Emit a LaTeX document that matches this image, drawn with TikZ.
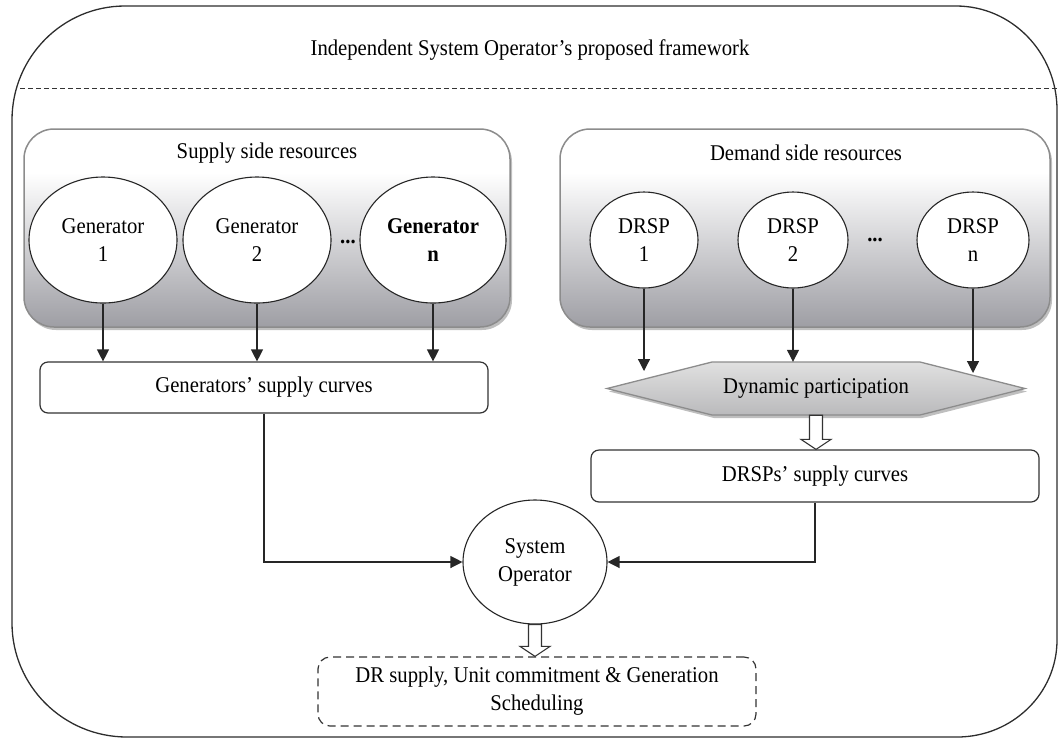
\documentclass[tikz,border=0pt]{standalone}
\usepackage{fontspec}
\setmainfont{Liberation Serif}[FakeStretch=0.92]
\usetikzlibrary{arrows.meta,shadows,calc,shapes.geometric}
\definecolor{boxgray}{RGB}{158,158,164}
\definecolor{framecol}{RGB}{45,45,45}
\definecolor{hextop}{RGB}{224,224,224}
\definecolor{hexbot}{RGB}{186,186,188}
\pgfdeclareverticalshading{resshade}{100bp}{color(0bp)=(boxgray); color(25bp)=(boxgray); color(64bp)=(white); color(100bp)=(white)}
\pgfdeclareverticalshading{hexshade}{100bp}{color(0bp)=(hexbot); color(25bp)=(hexbot); color(75bp)=(hextop); color(100bp)=(hextop)}
\newcommand\myfs{\fontsize{22.5pt}{28pt}\selectfont}
\newcommand\hollowarr[2]{%
  \draw[hollowstyle] let \p1=(#1), \p2=(#2) in
    (\x1-6.5pt,\y1) -- (\x1-6.5pt,\y2+10pt) -- (\x1-15pt,\y2+10pt) -- (\x1,\y2)
    -- (\x1+15pt,\y2+10pt) -- (\x1+6.5pt,\y2+10pt) -- (\x1+6.5pt,\y1) -- cycle;}
\begin{document}
\begin{tikzpicture}[x=1pt,y=-1pt,
  every node/.style={font=\myfs},
  resbox/.style={draw=black!45, line width=1.5pt, rounded corners=30pt, shading=resshade,
    drop shadow={shadow xshift=2pt, shadow yshift=-3pt, opacity=0.25, fill=black},
    inner sep=0pt},
  ell/.style={ellipse, draw=black!85, line width=1.1pt, fill=white, inner sep=0pt, align=center},
  curvebox/.style={draw=black!80, line width=1.2pt, rounded corners=8pt, fill=white, inner sep=0pt},
  arr/.style={line width=1.2pt, draw=black!85, -{Triangle[width=12pt,length=12pt]}},
  hollowstyle/.style={draw=black!80, line width=1.1pt, fill=white},
  hexstyle/.style={draw=black!45, line width=1.3pt, shading=hexshade,
    drop shadow={shadow xshift=2pt, shadow yshift=-3pt, opacity=0.25, fill=black}},
  dashbox/.style={draw=black!80, line width=1.2pt, dash pattern=on 8pt off 5pt, rounded corners=12pt, inner sep=0pt, align=center}
]
\useasboundingbox (0,0) rectangle (1059,740);

% outer frame
\draw[framecol, line width=1.3pt]
  (125,6) -- (956,6) .. controls (1011.8,6) and (1057,52.6) .. (1057,110)
  -- (1057,640) .. controls (1057,693.5) and (1012.2,737) .. (957,737)
  -- (127,737) .. controls (63.5,737) and (12,685.9) .. (12,623)
  -- (12,120) .. controls (12,57.1) and (62.6,6) .. (125,6) -- cycle;
\node (title) at (530,50) {Independent System Operator’s proposed framework};
\coordinate (dl) at (20,88);
\coordinate (dr) at (1057,88);
\draw[black!80, line width=1pt, dash pattern=on 5pt off 3pt] (dl) -- (dr);

% resource boxes
\node[resbox, minimum width=486pt, minimum height=198pt] (sup) at (267,228) {};
\node (suptitle) at (267,153) {Supply side resources};
\node[resbox, minimum width=490pt, minimum height=198pt] (dem) at (805,228) {};
\node (demtitle) at (806,153) {Demand side resources};

% generators
\node[ell, minimum width=148pt, minimum height=126pt] (g1) at (103,240) {Generator\\1};
\node[ell, minimum width=148pt, minimum height=126pt] (g2) at (257,240) {Generator\\2};
\node[ell, minimum width=146pt, minimum height=126pt, font=\myfs\bfseries] (gn) at (433,240) {Generator\\n};
\node (gdots) at (348,242) {\textbf{...}};

% DRSPs
\node[ell, minimum width=108pt, minimum height=96pt] (d1) at (644,240) {DRSP\\1};
\node[ell, minimum width=110pt, minimum height=96pt] (d2) at (793,240) {DRSP\\2};
\node[ell, minimum width=112pt, minimum height=96pt] (dn) at (973,240) {DRSP\\n};
\node (ddots) at (875,240) {\textbf{...}};

% generators' supply curves
\node[curvebox, minimum width=448pt, minimum height=51pt] (gsc) at (264,387.5) {Generators’ supply curves};
\draw[arr] (g1.south) -- (g1.south |- gsc.north);
\draw[arr] (g2.south) -- (g2.south |- gsc.north);
\draw[arr] (gn.south) -- (gn.south |- gsc.north);

% dynamic participation hexagon
\path[hexstyle] (607,388.5) -- (712,362) -- (920,362) -- (1025,388.5) -- (920,415) -- (712,415) -- cycle;
\node[minimum width=418pt, minimum height=53pt, inner sep=0pt] (hex) at (816,388.5) {Dynamic participation};
\coordinate (h1) at (644,371);
\coordinate (h3) at (973,373);
\draw[arr] (d1.south) -- (h1);
\draw[arr] (d2.south) -- (d2.south |- hex.north);
\draw[arr] (dn.south) -- (h3);

% DRSPs' supply curves
\node[curvebox, minimum width=448pt, minimum height=52pt] (drc) at (815,476) {DRSPs’ supply curves};
\hollowarr{hex.south}{drc.north}

% system operator
\node[ell, minimum width=144pt, minimum height=124pt] (so) at (535,562) {System\\Operator};
\draw[arr] (gsc.south) |- (so.west);
\draw[arr] (drc.south) |- (so.east);

% output
\node[dashbox, minimum width=438pt, minimum height=69pt] (drb) at (537,691.5) {DR supply, Unit commitment \& Generation\\Scheduling};
\hollowarr{so.south}{drb.north}
\end{tikzpicture}
\end{document}
